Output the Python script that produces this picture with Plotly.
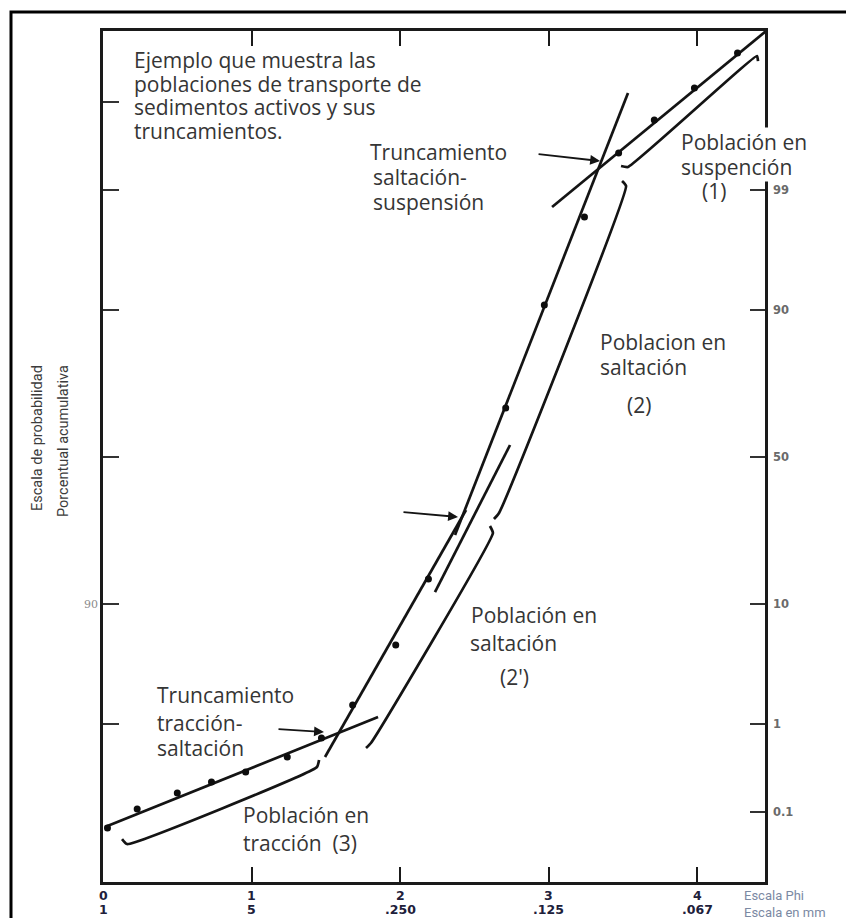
import math
import plotly.graph_objects as go

# ---------------------------------------------------------------
# Cumulative grain-size curve (phi vs cumulative percent)
# ---------------------------------------------------------------
phi_pts = [0.03, 0.23, 0.50, 0.73, 0.96, 1.24, 1.47, 1.68, 1.97, 2.19,
           2.71, 2.97, 3.24, 3.47, 3.71, 3.98, 4.27]
pct_pts = [0.0614, 0.1084, 0.1711, 0.2318, 0.3031, 0.448, 0.718, 1.536, 5.07, 14.39,
           66.52, 90.72, 98.17, 99.5955, 99.8337, 99.9346, 99.9784]

# Straight segments fitted to each transport population
seg_traccion_phi = [0.013, 1.851]
seg_traccion_pct = [0.0634, 1.175]
seg_salt2p_phi = [1.494, 2.443]
seg_salt2p_pct = [0.448, 32.22]
seg_salt2p_ext_phi = [2.234, 2.739]
seg_salt2p_ext_pct = [11.97, 54.16]
seg_salt2_phi = [2.369, 3.533]
seg_salt2_pct = [24.85, 99.924]
seg_susp_phi = [3.022, 4.462]
seg_susp_pct = [98.53, 99.98966]

# Brackets marking the extent of each population (hook, start, end, hook)
brk_traccion_phi = [0.128, 0.162, 1.440, 1.454]
brk_traccion_pct = [0.0437, 0.0374, 0.3464, 0.4148]
brk_salt2p_phi = [1.770, 1.803, 2.624, 2.604]
brk_salt2p_pct = [0.5626, 0.6365, 25.40, 27.40]
brk_salt2_phi = [2.631, 2.665, 3.520, 3.493]
brk_salt2_pct = [29.46, 31.29, 99.0885, 99.1896]
brk_susp_phi = [3.486, 3.533, 4.401, 4.408]
brk_susp_pct = [99.4374, 99.4233, 99.9761, 99.9719]

# Arrows pointing at the truncation points
arrow_tail_phi = [2.921, 2.012, 1.171]
arrow_tail_pct = [99.5852, 31.60, 0.8897]
arrow_tip_phi = [3.345, 2.389, 1.487]
arrow_tip_pct = [99.5034, 30.07, 0.8292]

# Axis ticks
prob_ticks_right = [0.1, 1, 10, 50, 90, 99]
prob_labels_right = ["0.1", "1", "10", "50", "90", "99"]
prob_ticks_left = [1, 10, 50, 90, 99, 99.9]
prob_labels_left = ["", "90", "", "", "", ""]
phi_ticks = [0, 1, 2, 3, 4]
phi_labels = ["0", "1", "2", "3", "4"]
mm_labels = ["1", "5", ".250", ".125", ".067"]


def probit(pct):
    """Inverse standard normal CDF of a percentage (bisection on erf)."""
    p = pct / 100.0
    lo, hi = -10.0, 10.0
    for _ in range(200):
        mid = 0.5 * (lo + hi)
        if 0.5 * (1.0 + math.erf(mid / math.sqrt(2.0))) < p:
            lo = mid
        else:
            hi = mid
    return 0.5 * (lo + hi)


def zs(values):
    return [probit(v) for v in values]


# Page layout (pixels)
W, H = 846, 918
PL, PR, PT, PB = 103, 765, 31, 882


def ppx(x):
    return (x - PL) / (PR - PL)


def ppy(y):
    return (PB - y) / (PB - PT)


LINE = dict(color="#141414", width=2.7)
fig = go.Figure()

for xs, ys in [(seg_traccion_phi, seg_traccion_pct), (seg_salt2p_phi, seg_salt2p_pct),
               (seg_salt2p_ext_phi, seg_salt2p_ext_pct),
               (seg_salt2_phi, seg_salt2_pct), (seg_susp_phi, seg_susp_pct)]:
    fig.add_trace(go.Scatter(x=xs, y=zs(ys), mode="lines", line=LINE,
                             hoverinfo="skip", showlegend=False))

for xs, ys in [(brk_traccion_phi, brk_traccion_pct), (brk_salt2p_phi, brk_salt2p_pct),
               (brk_salt2_phi, brk_salt2_pct), (brk_susp_phi, brk_susp_pct)]:
    fig.add_trace(go.Scatter(x=xs, y=zs(ys), mode="lines",
                             line=dict(color="#141414", width=2.7, shape="spline", smoothing=0.4),
                             hoverinfo="skip", showlegend=False))

fig.add_trace(go.Scatter(x=phi_pts, y=zs(pct_pts), mode="markers",
                         marker=dict(color="#0d0d0d", size=7),
                         showlegend=False))

# Invisible trace that carries the right-hand probability axis
fig.add_trace(go.Scatter(x=[phi_pts[0]], y=[probit(pct_pts[0])], yaxis="y2",
                         mode="markers", marker=dict(opacity=0), hoverinfo="skip",
                         showlegend=False))

annotations = []

for tx, ty, hx, hy in zip(arrow_tail_phi, arrow_tail_pct, arrow_tip_phi, arrow_tip_pct):
    annotations.append(dict(x=hx, y=probit(hy), ax=tx, ay=probit(ty), xref="x", yref="y",
                            axref="x", ayref="y", text="", showarrow=True,
                            arrowhead=2, arrowsize=1.1, arrowwidth=1.8,
                            arrowcolor="#141414", standoff=0, startstandoff=0))

TEXT_FONT = dict(family="Open Sans, DejaVu Sans, sans-serif", size=21, color="#353535")
labels = [
    ("Ejemplo que muestra las", 133, 60, False),
    ("poblaciones de transporte de", 133, 84, False),
    ("sedimentos activos y sus", 133, 107, False),
    ("truncamientos.", 133, 131, False),
    ("Truncamiento", 369, 152, False),
    ("saltación-", 372, 177, False),
    ("suspensión", 372, 202, False),
    ("Población en", 680, 142, True),
    ("suspención", 680, 167, True),
    ("(1)", 701, 191, False),
    ("Poblacion en", 599, 342, False),
    ("saltación", 599, 367, False),
    ("(2)", 626, 405, False),
    ("Población en", 470, 615, False),
    ("saltación", 469, 643, False),
    ("(2')", 499, 677, False),
    ("Truncamiento", 156, 695, False),
    ("tracción-", 156, 723, False),
    ("saltación", 156, 748, False),
    ("Población en", 242, 815, False),
    ("tracción  (3)", 242, 843, False),
]
for text, x, y, bg in labels:
    annotations.append(dict(text=text, x=ppx(x), y=ppy(y), xref="paper", yref="paper",
                            xanchor="left", yanchor="middle", showarrow=False,
                            font=TEXT_FONT, borderpad=0,
                            bgcolor="white" if bg else "rgba(0,0,0,0)"))

# Two-row tick labels below the phi axis
TICK_FONT = dict(family="DejaVu Sans, sans-serif", size=12.5, color="#20203a")
for v, a, b in zip(phi_ticks, phi_labels, mm_labels):
    annotations.append(dict(text="<b>%s</b>" % a, x=v, y=ppy(895), xref="x", yref="paper",
                            xanchor="center", yanchor="middle", showarrow=False, font=TICK_FONT))
    annotations.append(dict(text="<b>%s</b>" % b, x=v, y=ppy(909), xref="x", yref="paper",
                            xanchor="center", yanchor="middle", showarrow=False, font=TICK_FONT))

SCALE_FONT = dict(family="Roboto, sans-serif", size=13, color="#7b89a3")
annotations.append(dict(text="Escala Phi", x=ppx(742), y=ppy(895), xref="paper", yref="paper",
                        xanchor="left", yanchor="middle", showarrow=False, font=SCALE_FONT))
annotations.append(dict(text="Escala en mm", x=ppx(742), y=ppy(912), xref="paper", yref="paper",
                        xanchor="left", yanchor="middle", showarrow=False, font=SCALE_FONT))

TITLE_FONT = dict(family="Roboto, sans-serif", size=14.5, color="#3c3c3c")
annotations.append(dict(text="Escala de probabilidad", x=ppx(37), y=ppy(438), xref="paper",
                        yref="paper", xanchor="center", yanchor="middle", textangle=-90,
                        showarrow=False, font=TITLE_FONT))
annotations.append(dict(text="Porcentual acumulativa", x=ppx(63), y=ppy(441), xref="paper",
                        yref="paper", xanchor="center", yanchor="middle", textangle=-90,
                        showarrow=False, font=TITLE_FONT))

# Outer frame around the figure
shapes = [dict(type="path", xref="paper", yref="paper",
               path="M %f %f L %f %f L %f %f" % (ppx(11), ppy(925), ppx(11), ppy(12),
                                                 ppx(852), ppy(12)),
               line=dict(color="#000000", width=3))]

z_bottom = (PB - 457) / -114.8
z_top = (457 - PT) / 114.8

fig.update_layout(
    width=W, height=H, autosize=False,
    margin=dict(l=PL, r=W - PR, t=PT, b=H - PB, pad=0),
    paper_bgcolor="white", plot_bgcolor="white",
    showlegend=False,
    xaxis=dict(range=[0, (PR - PL) / 148.6], showgrid=False, zeroline=False,
               showline=True, linecolor="#1a1a1a", linewidth=2.6, mirror="ticks",
               ticks="inside", ticklen=15, tickwidth=2, tickcolor="#1a1a1a",
               tickvals=[1, 2, 3, 4], showticklabels=False),
    yaxis=dict(range=[z_bottom, z_top], showgrid=False, zeroline=False,
               showline=True, linecolor="#1a1a1a", linewidth=2.6, mirror=True,
               ticks="inside", ticklen=16, tickwidth=2, tickcolor="#333333",
               tickvals=zs(prob_ticks_left), ticktext=prob_labels_left,
               tickfont=dict(family="DejaVu Serif, serif", size=11, color="#8a8a8a")),
    yaxis2=dict(range=[z_bottom, z_top], overlaying="y", side="right", showgrid=False,
                zeroline=False, showline=False, ticks="inside", ticklen=15, tickwidth=2,
                tickcolor="#333333", tickvals=zs(prob_ticks_right), ticktext=prob_labels_right,
                ticklabelstandoff=7,
                tickfont=dict(family="DejaVu Sans, sans-serif", size=11.5, color="#6a6a6a",
                              weight="bold")),
    annotations=annotations,
    shapes=shapes,
)

fig.write_html("out.html")
